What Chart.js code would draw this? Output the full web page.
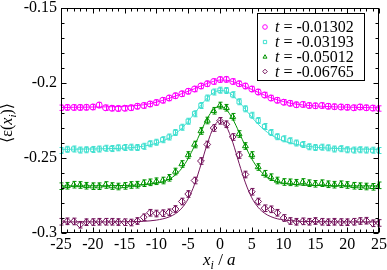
<!DOCTYPE html>
<html><head><meta charset="utf-8">
<script src="https://cdn.jsdelivr.net/npm/chart.js@4.4.0/dist/chart.umd.min.js"></script>
<style>html,body{margin:0;padding:0;background:#fff;}#wrap{width:387px;height:270px;}</style>
</head><body><div id="wrap"><canvas id="c" width="387" height="270"></canvas></div>
<script>
// ---- data ----
const xPositions = [-25,-24,-23,-22,-21,-20,-19,-18,-17,-16,-15,-14,-13,-12,-11,-10,-9,-8,-7,-6,-5,-4,-3,-2,-1,0,1,2,3,4,5,6,7,8,9,10,11,12,13,14,15,16,17,18,19,20,21,22,23,24,25];
const seriesLabels = ["-0.01302","-0.03193","-0.05012","-0.06765"];
const dataT1 = [-0.2165,-0.2163,-0.2163,-0.2163,-0.2162,-0.2160,-0.2147,-0.2165,-0.2168,-0.2170,-0.2168,-0.2165,-0.2155,-0.2150,-0.2140,-0.2130,-0.2115,-0.2100,-0.2085,-0.2072,-0.2055,-0.2040,-0.2020,-0.2005,-0.1990,-0.1977,-0.1976,-0.1990,-0.2005,-0.2020,-0.2040,-0.2060,-0.2080,-0.2100,-0.2115,-0.2128,-0.2135,-0.2145,-0.2143,-0.2150,-0.2152,-0.2150,-0.2155,-0.2158,-0.2160,-0.2162,-0.2165,-0.2160,-0.2165,-0.2167,-0.2170];
const dataT2 = [-0.2450,-0.2442,-0.2440,-0.2447,-0.2445,-0.2443,-0.2440,-0.2435,-0.2437,-0.2432,-0.2430,-0.2428,-0.2430,-0.2422,-0.2405,-0.2395,-0.2378,-0.2360,-0.2330,-0.2295,-0.2255,-0.2205,-0.2150,-0.2100,-0.2060,-0.2048,-0.2050,-0.2078,-0.2125,-0.2172,-0.2215,-0.2250,-0.2290,-0.2330,-0.2358,-0.2372,-0.2385,-0.2400,-0.2410,-0.2425,-0.2430,-0.2428,-0.2432,-0.2440,-0.2438,-0.2445,-0.2447,-0.2445,-0.2447,-0.2448,-0.2450];
const dataT3 = [-0.2688,-0.2685,-0.2678,-0.2680,-0.2685,-0.2688,-0.2688,-0.2680,-0.2687,-0.2690,-0.2686,-0.2680,-0.2678,-0.2668,-0.2662,-0.2655,-0.2650,-0.2632,-0.2590,-0.2540,-0.2480,-0.2410,-0.2320,-0.2250,-0.2185,-0.2150,-0.2165,-0.2225,-0.2340,-0.2420,-0.2480,-0.2560,-0.2605,-0.2628,-0.2650,-0.2660,-0.2662,-0.2665,-0.2660,-0.2668,-0.2672,-0.2668,-0.2675,-0.2678,-0.2675,-0.2680,-0.2685,-0.2688,-0.2690,-0.2692,-0.2682];
const dataT4 = [-0.2925,-0.2922,-0.2923,-0.2945,-0.2928,-0.2927,-0.2925,-0.2925,-0.2925,-0.2927,-0.2928,-0.2930,-0.2920,-0.2895,-0.2865,-0.2870,-0.2868,-0.2862,-0.2840,-0.2790,-0.2740,-0.2650,-0.2520,-0.2410,-0.2300,-0.2252,-0.2275,-0.2360,-0.2480,-0.2610,-0.2725,-0.2790,-0.2835,-0.2842,-0.2865,-0.2900,-0.2920,-0.2925,-0.2922,-0.2925,-0.2920,-0.2925,-0.2928,-0.2925,-0.2927,-0.2928,-0.2925,-0.2920,-0.2918,-0.2935,-0.2933];
const fitT1 = [-0.2163,-0.2163,-0.2162,-0.2162,-0.2161,-0.2160,-0.2160,-0.2159,-0.2158,-0.2157,-0.2155,-0.2153,-0.2150,-0.2145,-0.2138,-0.2128,-0.2116,-0.2102,-0.2087,-0.2071,-0.2055,-0.2038,-0.2020,-0.2003,-0.1989,-0.1980,-0.1981,-0.1991,-0.2006,-0.2024,-0.2043,-0.2062,-0.2081,-0.2098,-0.2112,-0.2124,-0.2134,-0.2141,-0.2146,-0.2150,-0.2153,-0.2155,-0.2157,-0.2159,-0.2160,-0.2161,-0.2162,-0.2163,-0.2164,-0.2165,-0.2165];
const fitT2 = [-0.2442,-0.2442,-0.2441,-0.2441,-0.2440,-0.2440,-0.2439,-0.2438,-0.2437,-0.2436,-0.2434,-0.2431,-0.2427,-0.2421,-0.2413,-0.2402,-0.2387,-0.2366,-0.2338,-0.2301,-0.2255,-0.2202,-0.2148,-0.2100,-0.2065,-0.2050,-0.2056,-0.2083,-0.2125,-0.2176,-0.2228,-0.2275,-0.2314,-0.2345,-0.2368,-0.2386,-0.2399,-0.2409,-0.2417,-0.2423,-0.2428,-0.2431,-0.2434,-0.2436,-0.2438,-0.2439,-0.2440,-0.2441,-0.2441,-0.2442,-0.2442];
const fitT3 = [-0.2686,-0.2686,-0.2686,-0.2686,-0.2686,-0.2685,-0.2685,-0.2685,-0.2684,-0.2684,-0.2683,-0.2682,-0.2680,-0.2678,-0.2674,-0.2668,-0.2658,-0.2641,-0.2613,-0.2568,-0.2503,-0.2418,-0.2323,-0.2236,-0.2176,-0.2155,-0.2178,-0.2240,-0.2328,-0.2423,-0.2506,-0.2570,-0.2614,-0.2642,-0.2658,-0.2668,-0.2674,-0.2678,-0.2680,-0.2682,-0.2683,-0.2684,-0.2684,-0.2685,-0.2685,-0.2685,-0.2686,-0.2686,-0.2686,-0.2686,-0.2686];
const fitT4 = [-0.2926,-0.2926,-0.2926,-0.2926,-0.2926,-0.2926,-0.2926,-0.2926,-0.2926,-0.2925,-0.2925,-0.2925,-0.2924,-0.2922,-0.2919,-0.2914,-0.2906,-0.2893,-0.2871,-0.2834,-0.2772,-0.2676,-0.2545,-0.2405,-0.2295,-0.2250,-0.2290,-0.2395,-0.2535,-0.2666,-0.2765,-0.2829,-0.2868,-0.2891,-0.2905,-0.2913,-0.2918,-0.2921,-0.2923,-0.2924,-0.2925,-0.2925,-0.2925,-0.2926,-0.2926,-0.2926,-0.2926,-0.2926,-0.2926,-0.2926,-0.2926];
const errT = [0.0018, 0.0020, 0.0022, 0.0022];
const xTickValues = [-25,-20,-15,-10,-5,0,5,10,15,20,25];
const yTickValues = [-0.3,-0.25,-0.2,-0.15];
const yTickLabels = ["-0.3","-0.25","-0.2","-0.15"];
const xMinorStep = 1, yMinorStep = 0.01;

// ---- styles ----
const colors = ['#ff00ff', '#40e0d0', '#009400', '#74145c'];
const shapes = ['circle', 'rect', 'triangle', 'rectRot'];
const radii = [3, 3, 3.4, 3.4];
const SERIF = "'Liberation Serif','DejaVu Serif',serif";

const dataAll = [dataT1, dataT2, dataT3, dataT4];
const fitAll = [fitT1, fitT2, fitT3, fitT4];
const toXY = arr => arr.map((v, i) => ({x: xPositions[i], y: v}));

const datasets = [];
for (let s = 0; s < 4; s++) {
  datasets.push({
    type: 'line', data: toXY(fitAll[s]), borderColor: colors[s], borderWidth: 1,
    pointRadius: 0, cubicInterpolationMode: 'monotone', fill: false, order: 10
  });
}
for (let s = 0; s < 4; s++) {
  datasets.push({
    type: 'line', data: toXY(dataAll[s]), showLine: false, errIndex: s,
    pointStyle: shapes[s], pointRadius: radii[s], pointBorderColor: colors[s],
    pointBackgroundColor: 'rgba(0,0,0,0)', pointBorderWidth: 1, order: 1
  });
}

const deco = {
  id: 'deco',
  afterDatasetsDraw(chart) {
    const ctx = chart.ctx, xs = chart.scales.x, ys = chart.scales.y;
    ctx.save();
    chart.data.datasets.forEach(ds => {
      if (ds.errIndex === undefined) return;
      const s = ds.errIndex, e = errT[s];
      ctx.strokeStyle = colors[s]; ctx.lineWidth = 1;
      ds.data.forEach(p => {
        const px = Math.round(xs.getPixelForValue(p.x)) + 0.5;
        const y1 = ys.getPixelForValue(p.y + e), y2 = ys.getPixelForValue(p.y - e);
        ctx.beginPath();
        ctx.moveTo(px, y1); ctx.lineTo(px, y2);
        ctx.moveTo(px - 2, y1); ctx.lineTo(px + 2, y1);
        ctx.moveTo(px - 2, y2); ctx.lineTo(px + 2, y2);
        ctx.stroke();
      });
    });
    ctx.restore();
  },
  afterDraw(chart) {
    const ctx = chart.ctx, xs = chart.scales.x, ys = chart.scales.y, a = chart.chartArea;
    ctx.save();
    ctx.strokeStyle = '#000'; ctx.lineWidth = 1;
    const L = Math.round(a.left) + 0.5, R = Math.round(a.right) - 0.5, T = Math.round(a.top) + 0.5, B = Math.round(a.bottom) - 0.5;
    ctx.strokeRect(L, T, R - L, B - T);
    const major = 5, minor = 3;
    ctx.beginPath();
    const nx = Math.round((xs.max - xs.min) / xMinorStep);
    for (let k = 0; k <= nx; k++) {
      const v = xs.min + k * xMinorStep;
      const isMajor = xTickValues.some(t => Math.abs(t - v) < 1e-9);
      const len = isMajor ? major : minor;
      const px = Math.round(xs.getPixelForValue(v)) + 0.5;
      ctx.moveTo(px, B); ctx.lineTo(px, B - len);
      ctx.moveTo(px, T); ctx.lineTo(px, T + len);
    }
    const ny = Math.round((ys.max - ys.min) / yMinorStep);
    for (let k = 0; k <= ny; k++) {
      const v = ys.min + k * yMinorStep;
      const isMajor = yTickValues.some(t => Math.abs(t - v) < 1e-9);
      const len = isMajor ? major : minor;
      const py = Math.round(ys.getPixelForValue(v)) + 0.5;
      ctx.moveTo(L, py); ctx.lineTo(L + len, py);
      ctx.moveTo(R, py); ctx.lineTo(R - len, py);
    }
    ctx.stroke();

    // x title: x_i / a
    ctx.fillStyle = '#000';
    ctx.textBaseline = 'alphabetic'; ctx.textAlign = 'left';
    let cx = 203, by = 265;
    ctx.font = 'italic 17px ' + SERIF; ctx.fillText('x', cx, by); cx += ctx.measureText('x').width;
    ctx.font = 'italic 12px ' + SERIF; ctx.fillText('i', cx, by + 4); cx += ctx.measureText('i').width;
    ctx.font = '17px ' + SERIF; ctx.fillText(' / ', cx, by); cx += ctx.measureText(' / ').width;
    ctx.font = 'italic 17px ' + SERIF; ctx.fillText('a', cx, by);

    // y title: ⟨ε(x_i)⟩ rotated
    ctx.save();
    ctx.translate(12, 143);
    ctx.rotate(-Math.PI / 2);
    let tx = 0;
    const parts = [['\u27E8\u03B5(', '16px ', 0], ['x', 'italic 16px ', 0], ['i', 'italic 11px ', 4], [')\u27E9', '16px ', 0]];
    parts.forEach(p => { ctx.font = p[1] + SERIF; ctx.fillText(p[0], tx, p[2]); tx += ctx.measureText(p[0]).width; });
    ctx.restore();

    // legend
    ctx.strokeStyle = '#000'; ctx.lineWidth = 1;
    ctx.strokeRect(257.5, 13.5, 107, 67);
    const rows = [27, 42, 57, 71.5];
    for (let s = 0; s < 4; s++) {
      const y = rows[s];
      ctx.save();
      ctx.strokeStyle = colors[s]; ctx.fillStyle = 'rgba(0,0,0,0)'; ctx.lineWidth = 1;
      Chart.helpers.drawPoint(ctx, {pointStyle: shapes[s], radius: 2.3, borderWidth: 1}, 265, y);
      ctx.restore();
      ctx.fillStyle = '#000'; ctx.textBaseline = 'middle'; ctx.textAlign = 'left';
      let lx = 275;
      ctx.font = 'italic 16px ' + SERIF; ctx.fillText('t', lx, y + 1); lx += ctx.measureText('t').width;
      ctx.font = '16px ' + SERIF; ctx.fillText(' = ' + seriesLabels[s], lx, y + 1);
    }
    ctx.restore();
  }
};

new Chart(document.getElementById('c'), {
  data: {datasets},
  options: {
    responsive: false, animation: false, devicePixelRatio: 1,
    layout: {padding: {left: 0, right: 8, top: 8, bottom: 0}},
    plugins: {legend: {display: false}, tooltip: {enabled: false}},
    scales: {
      x: {
        type: 'linear', min: -25, max: 25,
        afterBuildTicks: s => { s.ticks = xTickValues.map(v => ({value: v})); },
        ticks: {font: {family: SERIF, size: 16, lineHeight: 1}, color: '#000', padding: 4, maxRotation: 0, autoSkip: false, callback: v => String(v)},
        grid: {display: false, drawTicks: false}, border: {display: false},
        afterFit: s => { s.height = 37; s.paddingLeft = 0; s.paddingRight = 0; }
      },
      y: {
        type: 'linear', min: -0.3, max: -0.15,
        afterBuildTicks: s => { s.ticks = yTickValues.map(v => ({value: v})); },
        ticks: {font: {family: SERIF, size: 16, lineHeight: 1}, color: '#000', padding: 4, autoSkip: false, callback: (v, i) => yTickLabels[i]},
        grid: {display: false, drawTicks: false}, border: {display: false},
        afterFit: s => { s.width = 61; s.paddingTop = 0; s.paddingBottom = 0; }
      }
    }
  },
  plugins: [deco]
});
</script></body></html>
